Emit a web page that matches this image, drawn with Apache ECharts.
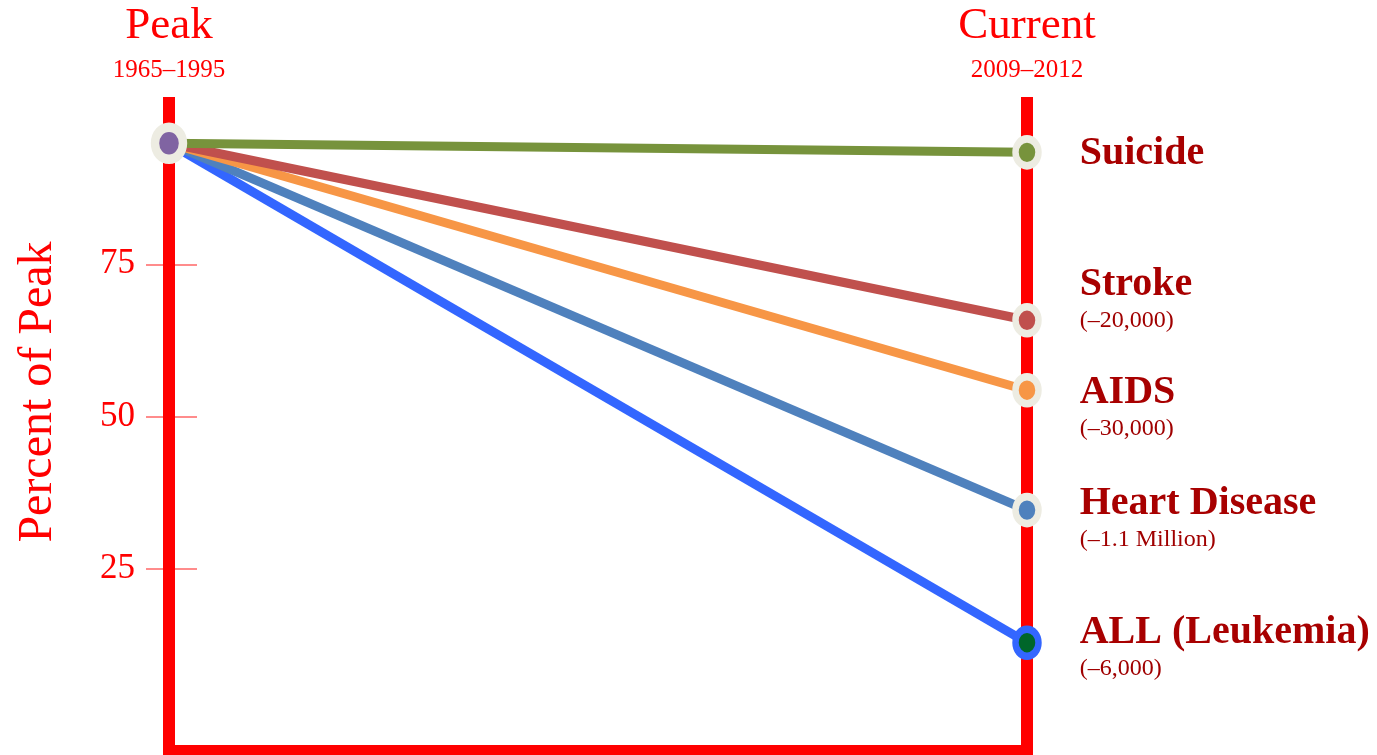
<!DOCTYPE html>
<html><head><meta charset="utf-8">
<script src="https://cdn.jsdelivr.net/npm/echarts@6/dist/echarts.min.js"></script>
<style>html,body{margin:0;padding:0;background:#fff}#c{width:1377px;height:755px}</style>
</head><body><div id="c"></div>
<script>
// ---- data ----
const periods = ['Peak', 'Current'];
const periodYears = ['1965–1995', '2009–2012'];
const causes = ['ALL (Leukemia)', 'Heart Disease', 'AIDS', 'Stroke', 'Suicide'];
const changes = ['(–6,000)', '(–1.1 Million)', '(–30,000)', '(–20,000)', ''];
const peakValues = [94.9, 94.9, 94.9, 94.9, 94.9];
const currentValues = [12.8, 34.6, 54.3, 65.8, 93.4];
const tickValues = [25, 50, 75];

// ---- styles ----
const RED = '#ff0000';
const SERIF = "'Liberation Serif', 'DejaVu Serif', serif";
const lineColors = ['#3366ff', '#4f81bd', '#f79646', '#c0504d', '#77933c'];
const markerFill = ['#00662a', '#4f81bd', '#f79646', '#c0504d', '#77933c'];
const markerBorder = ['#3366ff', '#edece2', '#edece2', '#edece2', '#edece2'];
const labelShift = [6, 10, 18, -20, 1];

const chart = echarts.init(document.getElementById('c'), null, {renderer: 'canvas'});

const rich = {
  n: {fontFamily: SERIF, fontWeight: 'bold', fontSize: 40, color: '#a80000', lineHeight: 40},
  s: {fontFamily: SERIF, fontSize: 24, color: '#a00000', lineHeight: 32}
};

const series = causes.map((name, i) => ({
  type: 'line',
  name: name,
  xAxisIndex: 0,
  yAxisIndex: 0,
  z: 3 + i,
  silent: true,
  symbol: 'circle',
  symbolSize: [23, 27],
  lineStyle: {color: lineColors[i], width: 9},
  itemStyle: {color: markerFill[i], borderColor: markerBorder[i], borderWidth: 7},
  emphasis: {disabled: true},
  data: [
    i === causes.length - 1
      ? {value: peakValues[i], symbolSize: [28, 32], itemStyle: {color: '#8064a2', borderColor: '#edece2', borderWidth: 9}}
      : {value: peakValues[i], symbol: 'none'},
    {
      value: currentValues[i],
      label: {
        show: true,
        position: 'right',
        distance: 5,
        offset: [33, labelShift[i]],
        formatter: () => changes[i] ? `{n|${name}}\n{s|${changes[i]}}` : `{n|${name}}`,
        rich: rich
      }
    }
  ]
}));

const yBase = {
  type: 'value',
  min: -5,
  max: 102.5,
  splitLine: {show: false}
};

chart.setOption({
  animation: false,
  backgroundColor: '#ffffff',
  grid: {left: 169, right: 350, top: 97, bottom: 4, containLabel: false, outerBoundsMode: 'none'},
  xAxis: [
    {
      type: 'category', data: periods, position: 'bottom', boundaryGap: false,
      axisLine: {show: true, onZero: false, lineStyle: {color: RED, width: 12, cap: 'square'}},
      axisTick: {show: false}, axisLabel: {show: false}, splitLine: {show: false}
    },
    {
      type: 'category', data: periods, position: 'top', boundaryGap: false,
      axisLine: {show: false, onZero: false}, axisTick: {show: false}, splitLine: {show: false},
      axisLabel: {
        show: true, interval: 0, margin: 9,
        formatter: (v, idx) => `{a|${v}}\n{b|${periodYears[idx]}}`,
        rich: {
          a: {fontFamily: SERIF, fontSize: 45, color: RED, lineHeight: 52},
          b: {fontFamily: SERIF, fontSize: 25, color: RED, lineHeight: 36}
        }
      }
    }
  ],
  yAxis: [
    Object.assign({}, yBase, {
      position: 'left',
      name: 'Percent of Peak',
      nameLocation: 'middle',
      nameGap: 107,
      nameTextStyle: {fontFamily: SERIF, fontSize: 48, color: RED, padding: [0, 0, 0, 64]},
      axisLine: {show: true, onZero: false, lineStyle: {color: RED, width: 12, cap: 'butt'}},
      axisTick: {show: true, inside: false, length: 23, customValues: tickValues,
        lineStyle: {color: 'rgba(255,0,0,0.45)', width: 2}},
      axisLabel: {show: true, margin: 34, customValues: tickValues,
        fontFamily: SERIF, fontSize: 35, color: RED}
    }),
    Object.assign({}, yBase, {
      position: 'left',
      axisLine: {show: false, onZero: false},
      axisTick: {show: true, inside: true, length: 28, customValues: tickValues,
        lineStyle: {color: 'rgba(255,0,0,0.45)', width: 2}},
      axisLabel: {show: false}
    }),
    Object.assign({}, yBase, {
      position: 'right',
      axisLine: {show: true, onZero: false, lineStyle: {color: RED, width: 12, cap: 'butt'}},
      axisTick: {show: false},
      axisLabel: {show: false}
    })
  ],
  series: series
});
</script>
</body></html>
